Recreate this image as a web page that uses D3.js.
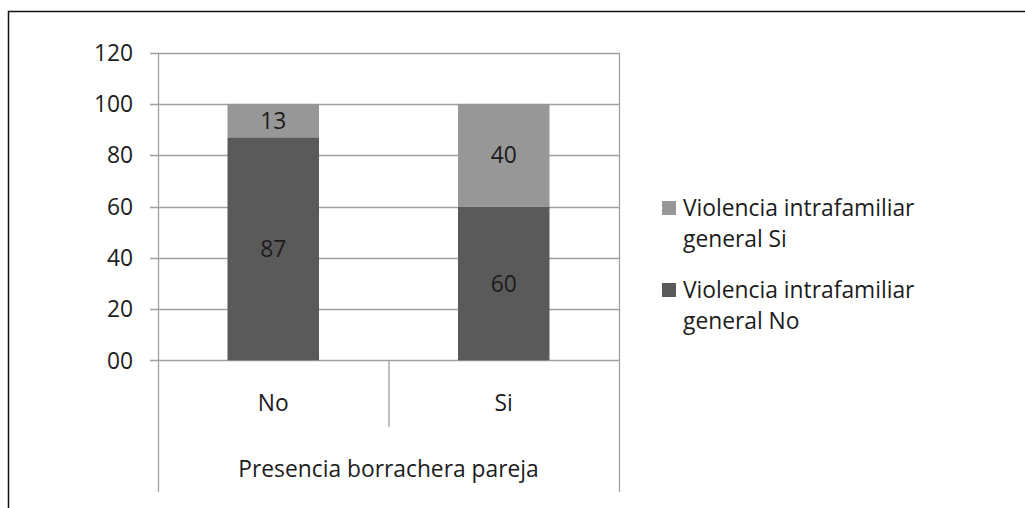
<!DOCTYPE html>
<html><head><meta charset="utf-8">
<script src="https://cdn.jsdelivr.net/npm/d3@7/dist/d3.min.js"></script>
<style>
html,body{margin:0;padding:0;background:#fff;}
text{font-family:"Open Sans",sans-serif;fill:#1c1c1c;}
</style></head>
<body>
<svg id="chart" width="1025" height="508"></svg>
<script>
const categories = ["No", "Si"];
const seriesNames = ["Violencia intrafamiliar general No", "Violencia intrafamiliar general Si"];
const valuesNo = [87, 60];   // Violencia intrafamiliar general No
const valuesSi = [13, 40];   // Violencia intrafamiliar general Si
const tickValues = [0, 20, 40, 60, 80, 100, 120];
const tickLabels = ["00", "20", "40", "60", "80", "100", "120"];
const axisTitle = "Presencia borrachera pareja";
const legendLines = [["Violencia intrafamiliar", "general Si"], ["Violencia intrafamiliar", "general No"]];

const colors = {No: "#5a5a5a", Si: "#979797"};
const FS = 22.8;
const svg = d3.select("#chart");

// frame
svg.append("path").attr("d", "M8.5,520 L8.5,11.5 L1030,11.5")
  .attr("fill", "none").attr("stroke", "#111").attr("stroke-width", 1.5);

const x = d3.scaleBand().domain(categories).range([158, 619]).paddingInner(0).paddingOuter(0);
const y = d3.scaleLinear().domain([0, 120]).range([360.3, 52.7]);

// gridlines + ticks
const grid = svg.append("g");
tickValues.forEach((v, i) => {
  grid.append("line").attr("x1", 150).attr("x2", 619)
    .attr("y1", Math.round(y(v)) + 0.5).attr("y2", Math.round(y(v)) + 0.5)
    .attr("stroke", "#a0a0a0").attr("stroke-width", 1.3);
  svg.append("text").attr("x", 133).attr("y", y(v)).attr("dy", "0.36em")
    .attr("text-anchor", "end").attr("font-size", FS).text(tickLabels[i]);
});

// axis verticals
[158, 619].forEach(xx => {
  svg.append("line").attr("x1", xx + 0.5).attr("x2", xx + 0.5).attr("y1", 52.7).attr("y2", 492)
    .attr("stroke", "#a0a0a0").attr("stroke-width", 1.3);
});
svg.append("line").attr("x1", 389).attr("x2", 389).attr("y1", y(0)).attr("y2", 427)
  .attr("stroke", "#a0a0a0").attr("stroke-width", 1.3);

// bars
const bw = x.bandwidth() * 0.397;
const stacks = [
  {key: "No", vals: valuesNo, base: [0, 0]},
  {key: "Si", vals: valuesSi, base: valuesNo}
];
stacks.forEach(s => {
  categories.forEach((c, i) => {
    const x0 = x(c) + (x.bandwidth() - bw) / 2;
    const y0 = y(s.base[i] + s.vals[i]);
    const y1 = y(s.base[i]);
    svg.append("rect").attr("x", x0).attr("y", y0).attr("width", bw).attr("height", y1 - y0)
      .attr("fill", colors[s.key]);
    svg.append("text").attr("x", x(c) + x.bandwidth() / 2).attr("y", (y0 + y1) / 2)
      .attr("dy", "0.36em").attr("text-anchor", "middle").attr("font-size", FS)
      .text(s.vals[i]);
  });
});

// category labels
categories.forEach(c => {
  svg.append("text").attr("x", x(c) + x.bandwidth() / 2).attr("y", 411)
    .attr("text-anchor", "middle").attr("font-size", FS).text(c);
});
svg.append("text").attr("x", 388.5).attr("y", 477).attr("text-anchor", "middle")
  .attr("font-size", FS).text(axisTitle);

// legend
const legColors = [colors.Si, colors.No];
const legY = [216, 298];
legendLines.forEach((lines, i) => {
  svg.append("rect").attr("x", 662).attr("y", legY[i] - 15).attr("width", 14).attr("height", 14)
    .attr("fill", legColors[i]);
  lines.forEach((t, j) => {
    svg.append("text").attr("x", 683).attr("y", legY[i] + j * 31).attr("font-size", FS).text(t);
  });
});
</script>
</body></html>
